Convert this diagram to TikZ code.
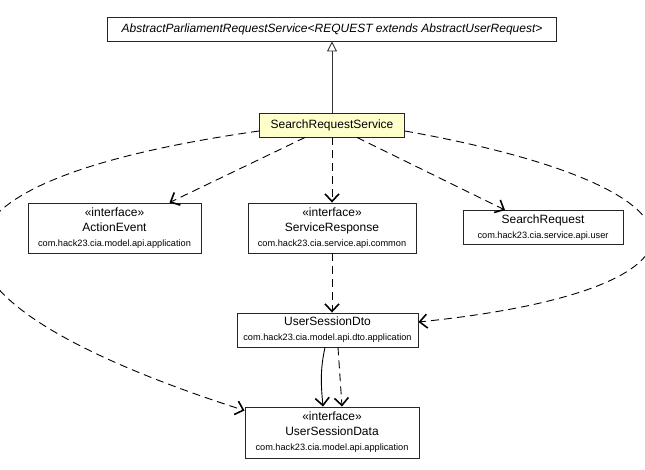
\documentclass[tikz,border=0pt]{standalone}
\usepackage{fontspec}
\setmainfont{Liberation Sans}
\usetikzlibrary{arrows.meta}
\definecolor{classyellow}{RGB}{255,255,204}
\newcommand{\pkgname}[1]{{\fontsize{9.2}{15}\selectfont #1}}

\begin{document}
\begin{tikzpicture}[x=1pt, y=-1pt,
    umlbox/.style={draw=black!85, line width=0.9pt, fill=white, align=center, inner sep=1pt, font=\fontsize{12}{15}\selectfont},
    dep/.style={draw=black, line width=0.9pt, dash pattern=on 8pt off 5pt, -{Straight Barb[length=7.5pt,width=14pt,line width=1.6pt]}},
    uses/.style={draw=black, line width=0.9pt, -{Straight Barb[length=7.5pt,width=14pt,line width=1.6pt]}},
    inherit/.style={draw=black!80, line width=0.9pt, -{Triangle[open,length=10pt,width=10pt]}}]
    \useasboundingbox (0,0) rectangle (645,469);

    \node[umlbox, minimum width=449pt, minimum height=24pt, font=\fontsize{12}{15}\selectfont\itshape] (Abstract) at (332,29) {AbstractParliamentRequestService<REQUEST extends AbstractUserRequest>};
    \node[umlbox, fill=classyellow, minimum width=145pt, minimum height=24pt] (SRS) at (332,125) {SearchRequestService};

    \node[umlbox, minimum width=173pt, minimum height=50pt] (ActionEvent) at (114.5,228) {«interface»\\ActionEvent\\\pkgname{com.hack23.cia.model.api.application}};
    \node[umlbox, minimum width=168pt, minimum height=50pt] (ServiceResponse) at (332,228) {«interface»\\ServiceResponse\\\pkgname{com.hack23.cia.service.api.common}};
    \node[umlbox, minimum width=160pt, minimum height=34pt] (SearchRequest) at (543,227.5) {SearchRequest\\\pkgname{com.hack23.cia.service.api.user}};

    \node[umlbox, minimum width=181pt, minimum height=34pt] (UserSessionDto) at (327.5,330) {UserSessionDto\\\pkgname{com.hack23.cia.model.api.dto.application}};
    \node[umlbox, minimum width=174pt, minimum height=51pt] (UserSessionData) at (332,432.5) {«interface»\\UserSessionData\\\pkgname{com.hack23.cia.model.api.application}};

    % generalization
    \draw[inherit] (SRS.north) -- (Abstract.south);

    % dependencies
    \draw[dep] ([xshift=-27pt]SRS.south) -- ([xshift=55pt]ActionEvent.north);
    \draw[dep] (SRS.south) -- (ServiceResponse.north);
    \draw[dep] ([xshift=25pt]SRS.south) -- ([xshift=-38pt]SearchRequest.north);
    \draw[dep] ([yshift=-6pt]SRS.west) .. controls (-120,185) and (-100,300) .. ([yshift=22pt]UserSessionData.west);
    \draw[dep] ([yshift=-6pt]SRS.east) .. controls (735,190) and (730,290) .. ([yshift=8pt]UserSessionDto.east);
    \draw[dep] (ServiceResponse.south) -- (ServiceResponse.south |- UserSessionDto.north);

    \draw[uses] ([xshift=-2.5pt]UserSessionDto.south) .. controls (320,370) and (321,385) .. ([xshift=-9pt]UserSessionData.north);
    \draw[dep] ([xshift=10.5pt]UserSessionDto.south) -- ([xshift=10pt]UserSessionData.north);
\end{tikzpicture}
\end{document}
